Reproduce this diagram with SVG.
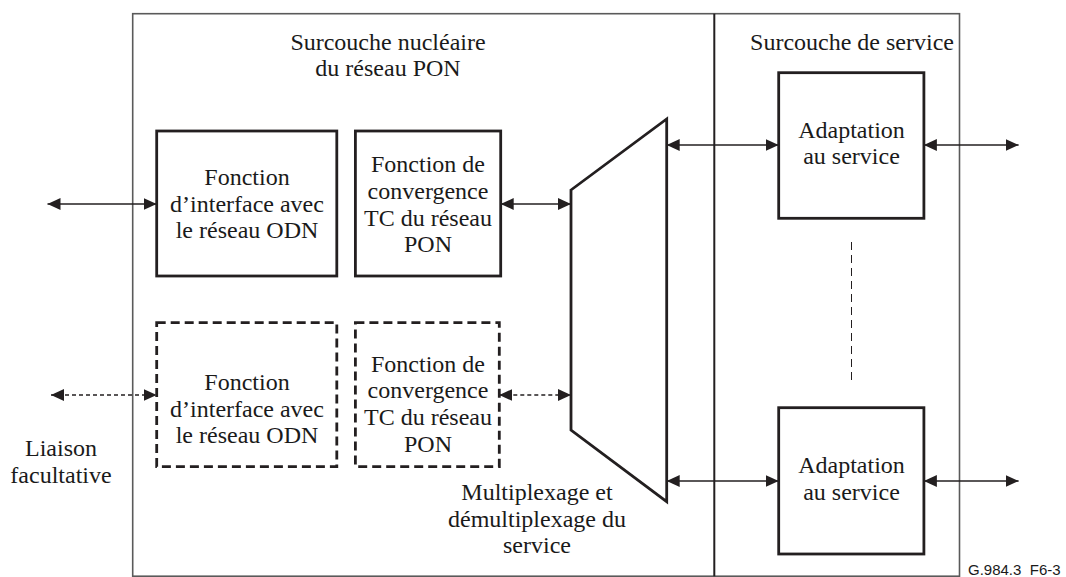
<svg xmlns="http://www.w3.org/2000/svg" width="1066" height="577" viewBox="0 0 1066 577">
  <style>
    .t { font-family: "Liberation Serif", "Times New Roman", serif; font-size: 24px; fill: #1a1a1a; text-anchor: middle; }
    .lbl { font-family: "Liberation Sans", Arial, sans-serif; font-size: 15px; fill: #1a1a1a; }
    .box { fill: #ffffff; stroke: #231f20; stroke-width: 2.8; }
    .dbox { fill: #ffffff; stroke: #231f20; stroke-width: 2.8; stroke-dasharray: 9 5; }
    .frame { fill: none; stroke: #5a5a5a; stroke-width: 1.6; }
    .div { stroke: #231f20; stroke-width: 2; }
    .conn { stroke: #231f20; stroke-width: 1.5; fill: none; marker-start: url(#ah); marker-end: url(#ah); }
    .dconn { stroke: #231f20; stroke-width: 1.3; fill: none; stroke-dasharray: 4 3; marker-start: url(#ah); marker-end: url(#ah); }
    .dline { stroke: #231f20; stroke-width: 1; stroke-dasharray: 8 5; fill: none; }
    .mux { fill: #ffffff; stroke: #231f20; stroke-width: 2.8; stroke-linejoin: miter; }
  </style>
  <defs>
    <marker id="ah" markerUnits="userSpaceOnUse" markerWidth="14" markerHeight="12" refX="13" refY="6" orient="auto-start-reverse">
      <path d="M0,0 L13,6 L0,12 z" fill="#231f20"/>
    </marker>
  </defs>
  <rect width="1066" height="577" fill="#ffffff"/>

  <g id="frame">
    <rect class="frame" x="132.7" y="13.7" width="826.8" height="562.5"/>
    <line class="div" x1="714.3" y1="13.7" x2="714.3" y2="576.2"/>
    <text class="t" x="388" y="50">Surcouche nucléaire</text>
    <text class="t" x="388" y="76">du réseau PON</text>
    <text class="t" x="852" y="50">Surcouche de service</text>
  </g>

  <g id="connectors">
    <line class="conn" x1="47.5" y1="204" x2="156.7" y2="204"/>
    <line class="conn" x1="500.7" y1="204" x2="571" y2="204"/>
    <line class="conn" x1="666.7" y1="145" x2="778.7" y2="145"/>
    <line class="conn" x1="923.9" y1="145" x2="1018.6" y2="145"/>
    <line class="conn" x1="666.7" y1="481" x2="778.7" y2="481"/>
    <line class="conn" x1="923.9" y1="481" x2="1018.6" y2="481"/>
    <line class="dconn" x1="51" y1="395" x2="156.7" y2="395"/>
    <line class="dconn" x1="499.3" y1="395" x2="571" y2="395"/>
    <line class="dline" x1="851.5" y1="242" x2="851.5" y2="384"/>
  </g>

  <g id="odn1">
    <rect class="box" x="156.7" y="131" width="180.1" height="145"/>
    <text class="t" x="247" y="185">Fonction</text>
    <text class="t" x="247" y="211.7">d’interface avec</text>
    <text class="t" x="247" y="238">le réseau ODN</text>
  </g>

  <g id="tc1">
    <rect class="box" x="355.4" y="131" width="145.3" height="145"/>
    <text class="t" x="428" y="172">Fonction de</text>
    <text class="t" x="428" y="199">convergence</text>
    <text class="t" x="428" y="226">TC du réseau</text>
    <text class="t" x="428" y="252">PON</text>
  </g>

  <g id="odn2">
    <rect class="dbox" x="156.7" y="322.7" width="180.1" height="144"/>
    <text class="t" x="247" y="390">Fonction</text>
    <text class="t" x="247" y="417">d’interface avec</text>
    <text class="t" x="247" y="443">le réseau ODN</text>
  </g>

  <g id="tc2">
    <rect class="dbox" x="355.4" y="322.7" width="143.9" height="144"/>
    <text class="t" x="428" y="372">Fonction de</text>
    <text class="t" x="428" y="398">convergence</text>
    <text class="t" x="428" y="425">TC du réseau</text>
    <text class="t" x="428" y="452">PON</text>
  </g>

  <g id="mux">
    <polygon class="mux" points="571,190 666.7,119 666.7,501.7 571,430"/>
    <text class="t" x="537" y="500">Multiplexage et</text>
    <text class="t" x="537" y="527">démultiplexage du</text>
    <text class="t" x="537" y="553">service</text>
  </g>

  <g id="adapt1">
    <rect class="box" x="778.7" y="72.7" width="145.2" height="145.6"/>
    <text class="t" x="851.5" y="138">Adaptation</text>
    <text class="t" x="851.5" y="164">au service</text>
  </g>

  <g id="adapt2">
    <rect class="box" x="778.7" y="407.7" width="145.2" height="146.3"/>
    <text class="t" x="851.5" y="473">Adaptation</text>
    <text class="t" x="851.5" y="500">au service</text>
  </g>

  <g id="liaison">
    <text class="t" x="61" y="456">Liaison</text>
    <text class="t" x="61" y="483">facultative</text>
  </g>

  <text class="lbl" x="968" y="575">G.984.3_F6-3</text>
</svg>
